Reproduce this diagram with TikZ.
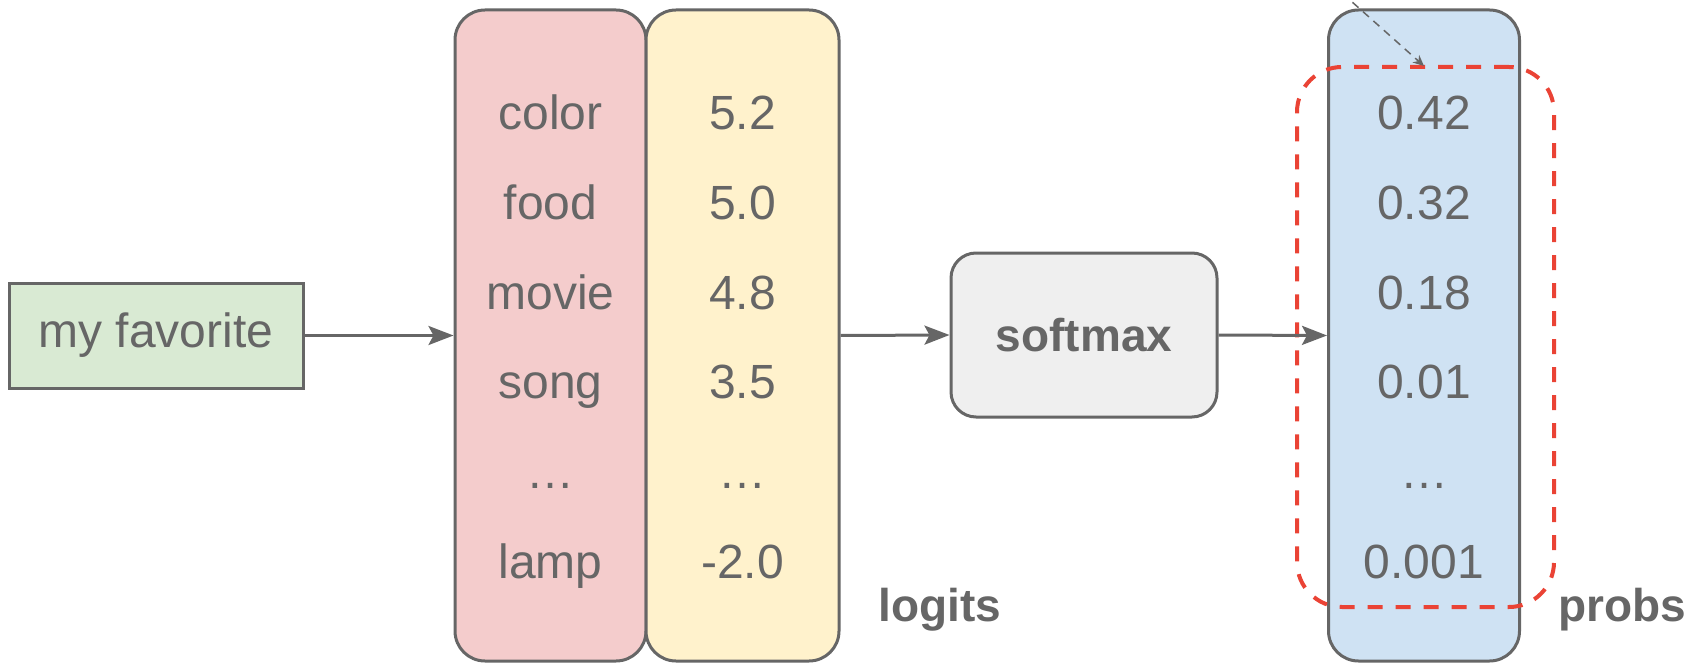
\documentclass[tikz,border=0pt]{standalone}
\usepackage{fontspec}
\setmainfont{Liberation Sans}
\usetikzlibrary{arrows.meta}
\definecolor{txtgray}{HTML}{666666}
\definecolor{favfill}{HTML}{D9EAD3}
\definecolor{wordfill}{HTML}{F4CCCC}
\definecolor{logitfill}{HTML}{FFF2CC}
\definecolor{softfill}{HTML}{EFEFEF}
\definecolor{probfill}{HTML}{CFE2F3}
\definecolor{selred}{HTML}{EA4335}
\begin{document}
\begin{tikzpicture}[x=1pt,y=-1pt,
  every node/.style={text=txtgray, font=\fontsize{48}{56}\selectfont},
  col/.style={draw=txtgray, line width=3pt, rounded corners=30pt, inner sep=0pt,
    minimum width=191pt, minimum height=651pt},
  conn/.style={draw=txtgray, line width=3pt, -{Stealth[length=25pt,width=19pt,inset=5pt]}},
  lbl/.style={anchor=base, font=\fontsize{46}{55}\selectfont\bfseries}]
  \useasboundingbox (0,0) rectangle (1686,663);

  % input
  \node[draw=txtgray, fill=favfill, line width=3pt, inner sep=0pt,
    minimum width=294pt, minimum height=105pt] (fav) at (156,335.5) {my favorite};

  % columns
  \node[col, fill=wordfill] (words) at (550.5,335.5) {};
  \node[col, fill=logitfill, minimum width=193pt] (logits) at (742.5,335.5) {};
  \node[col, fill=probfill] (probs) at (1424,335.5) {};

  % rows
  \foreach \w/\v/\p [count=\i from 0] in
    {color/5.2/0.42, food/5.0/0.32, movie/4.8/0.18, song/3.5/0.01, …/…/…, lamp/-2.0/0.001} {
    \node[anchor=base] (w\i) at (550.5,130+89.6*\i) {\w};
    \node[anchor=base] (v\i) at (742.5,130+89.6*\i) {\v};
    \node[anchor=base] (p\i) at (1424,130+89.6*\i) {\p};
  }

  % softmax
  \node[draw=txtgray, fill=softfill, line width=3pt, rounded corners=25pt,
    minimum width=266pt, minimum height=164pt, font=\fontsize{46}{55}\selectfont\bfseries]
    (soft) at (1084,335) {softmax};

  % selection
  \node[draw=selred, line width=4pt, dash pattern=on 15pt off 13pt, rounded corners=45pt,
    minimum width=257pt, minimum height=540pt] (sel) at (1425.5,337) {};

  % arrows
  \draw[conn] (fav.east) -- (words.west);
  \draw[conn] (logits.east) -- (soft.west);
  \draw[conn] (soft.east) -- (probs.west);

  \coordinate (hint) at (1342,-7);
  \coordinate (hintend) at (1424,66);
  \draw[txtgray, line width=1.5pt, dash pattern=on 8pt off 6pt,
    -{Stealth[length=11pt,width=10pt]}] (hint) -- (hintend);

  % labels
  \node[lbl] (logitlbl) at (940,621) {logits};
  \node[lbl] (problbl) at (1622,621) {probs};
\end{tikzpicture}
\end{document}
